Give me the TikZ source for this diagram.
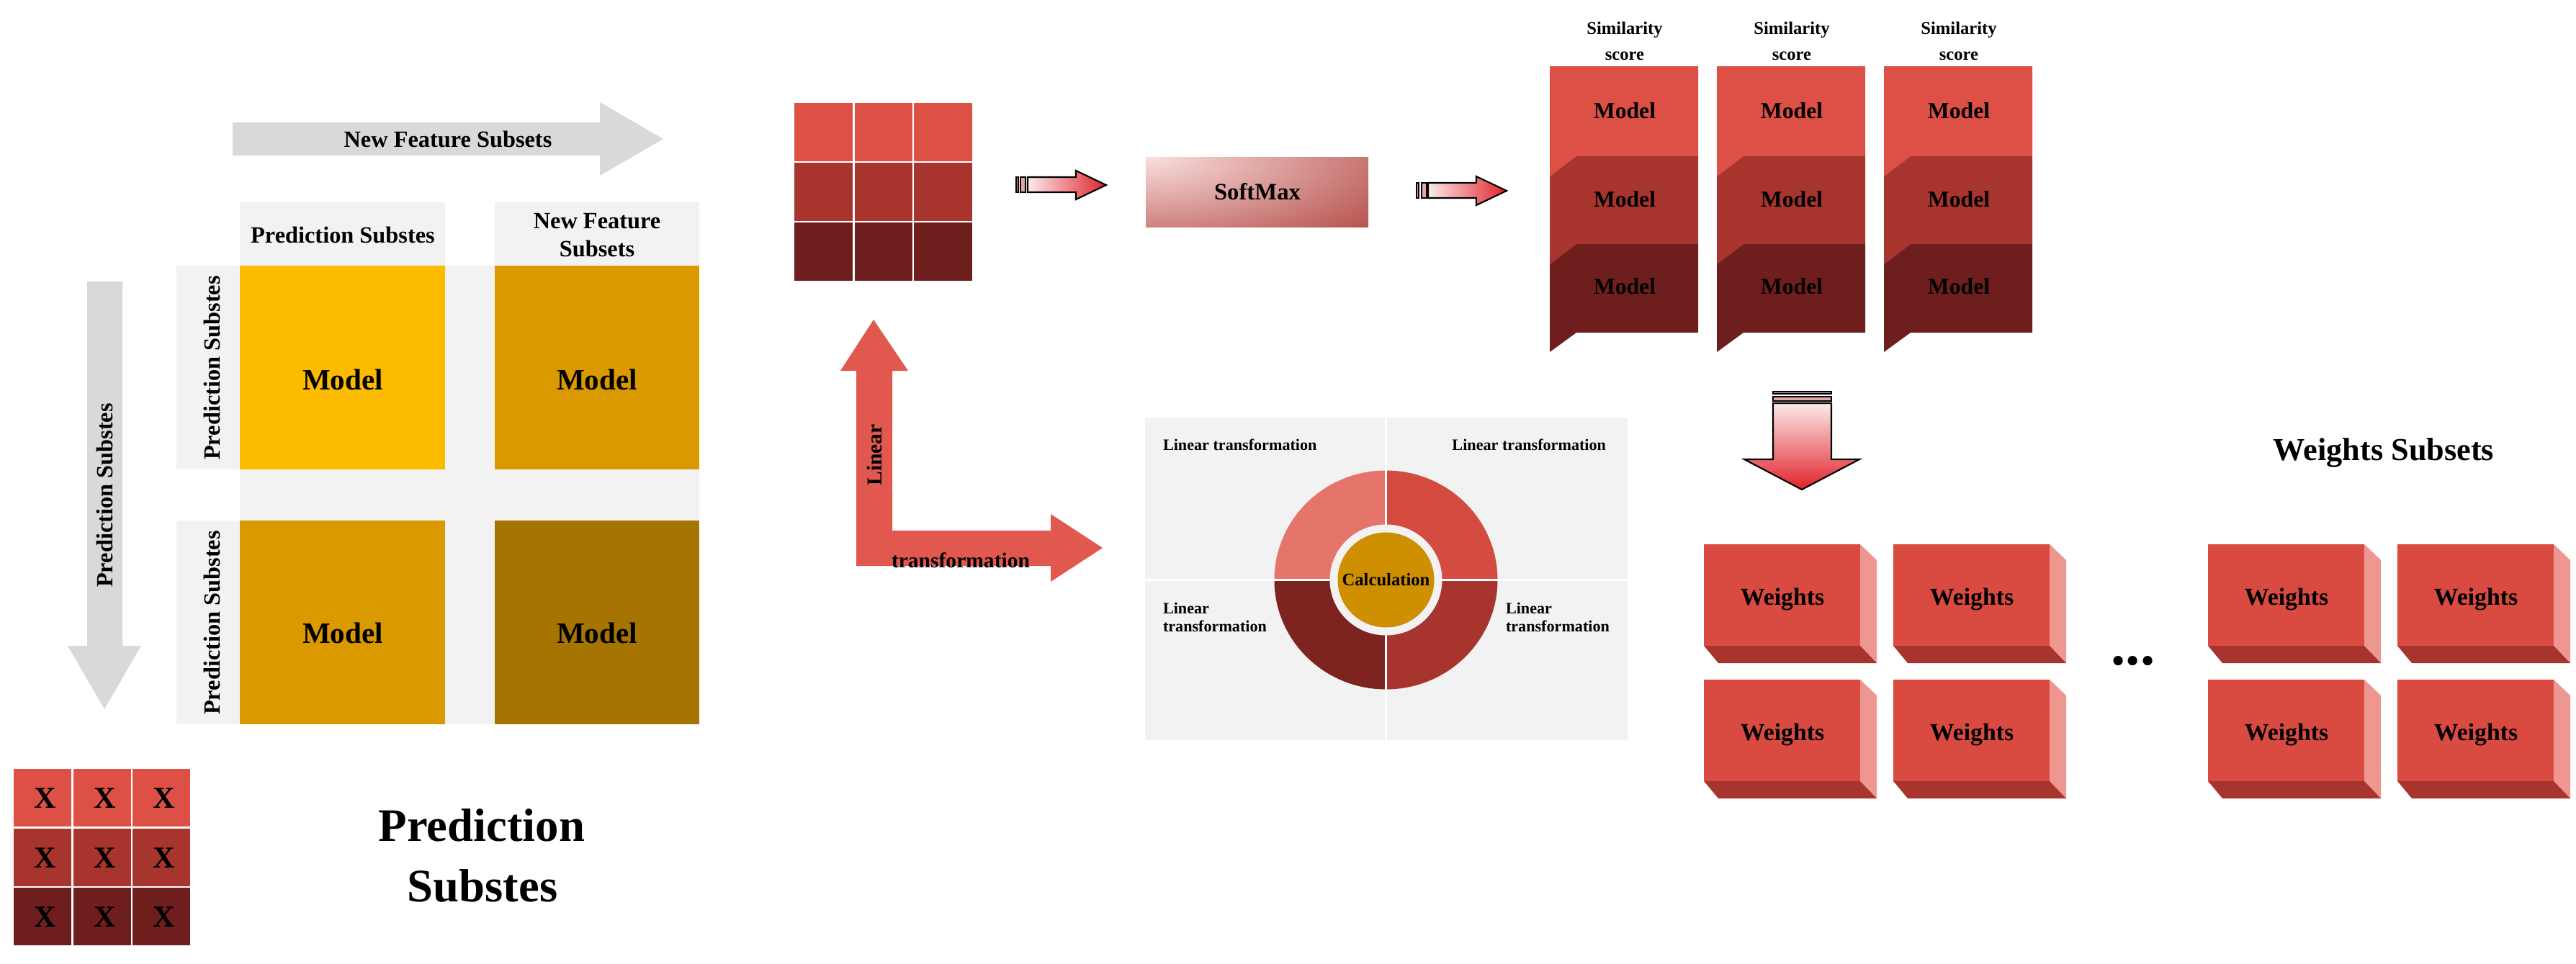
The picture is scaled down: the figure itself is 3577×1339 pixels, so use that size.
\documentclass[tikz,border=0pt]{standalone}
\usepackage{fontspec}
\setmainfont{Liberation Serif}
\definecolor{gArrow}{HTML}{D9D9D9}
\definecolor{gBox}{HTML}{F2F2F2}
\definecolor{goldA}{HTML}{FDBB00}
\definecolor{goldB}{HTML}{DB9900}
\definecolor{goldC}{HTML}{A67400}
\definecolor{redA}{HTML}{DC5046}
\definecolor{redB}{HTML}{A8342E}
\definecolor{redC}{HTML}{6E1F1D}
\definecolor{ringA}{HTML}{E5746B}
\definecolor{ringB}{HTML}{D44B40}
\definecolor{ringC}{HTML}{A8342E}
\definecolor{ringD}{HTML}{7D2420}
\definecolor{calcGold}{HTML}{CE8F00}
\definecolor{lArrow}{HTML}{E0584E}
\definecolor{wFront}{HTML}{D94B41}
\definecolor{wSide}{HTML}{EE9690}
\definecolor{wBottom}{HTML}{A8342E}
\definecolor{smLight}{HTML}{FADFDF}
\definecolor{arrRed}{HTML}{E0232A}
\definecolor{arrLight}{HTML}{FBEAEA}
\definecolor{barPink}{HTML}{EBA4A4}
\newcommand{\FontHead}{\fontsize{9.2pt}{11pt}\selectfont\bfseries}
\newcommand{\FontModelBig}{\fontsize{11.7pt}{14pt}\selectfont\bfseries}
\newcommand{\FontX}{\fontsize{12pt}{14pt}\selectfont\bfseries}
\newcommand{\FontTitle}{\fontsize{18.4pt}{22pt}\selectfont\bfseries}
\newcommand{\FontSoft}{\fontsize{9.3pt}{11pt}\selectfont\bfseries}
\newcommand{\FontSim}{\fontsize{7pt}{8pt}\selectfont\bfseries}
\newcommand{\FontModelSm}{\fontsize{9pt}{11pt}\selectfont\bfseries}
\newcommand{\FontWeights}{\fontsize{9.6pt}{11pt}\selectfont\bfseries}
\newcommand{\FontWS}{\fontsize{12.6pt}{15pt}\selectfont\bfseries}
\newcommand{\FontLT}{\fontsize{6.3pt}{7.5pt}\selectfont\bfseries}
\newcommand{\FontCalc}{\fontsize{7pt}{8pt}\selectfont\bfseries}
\newcommand{\FontLArrow}{\fontsize{8.4pt}{10pt}\selectfont\bfseries}
\newcommand{\FontDots}{\fontsize{23pt}{26pt}\selectfont\bfseries}
\begin{document}
\begin{tikzpicture}[x=0.01cm, y=-0.01cm,
  lbl/.style={inner sep=0pt, outer sep=0pt, font=#1},
  outl/.style={draw=black, line width=0.6pt, line join=miter}]
\useasboundingbox (0,0) rectangle (3577,1339);
\fill[white] (0,0) rectangle (3577,1339);

% ---------- left: gray arrows ----------
\fill[gArrow] (323,170) -- (833,170) -- (833,142) -- (921,193) -- (833,244) -- (833,216) -- (323,216) -- cycle;
\node[lbl=\FontHead, anchor=base] (nfsArrow) at (622,204) {New Feature Subsets};
\fill[gArrow] (121,391) -- (170,391) -- (170,897) -- (196,897) -- (145,985) -- (94,897) -- (121,897) -- cycle;
\node[lbl=\FontHead, rotate=90] (psArrow) at (145,688) {Prediction Substes};

% ---------- left: matrix ----------
\fill[gBox] (333,369) rectangle (971,1006);
\fill[gBox] (333,281) rectangle (618,369);
\fill[gBox] (687,281) rectangle (971,369);
\fill[gBox] (245,369) rectangle (333,652);
\fill[gBox] (245,723) rectangle (333,1006);
\node[lbl=\FontHead, anchor=base] (hdrPS) at (476,337) {Prediction Substes};
\node[lbl=\FontHead, anchor=base] (hdrNF1) at (829,317) {New Feature};
\node[lbl=\FontHead, anchor=base] (hdrNF2) at (829,356) {Subsets};
\node[lbl=\FontHead, rotate=90] (rowPS1) at (294,511) {Prediction Substes};
\node[lbl=\FontHead, rotate=90] (rowPS2) at (294,865) {Prediction Substes};
\fill[goldA] (333,369) rectangle (618,652);
\fill[goldB] (687,369) rectangle (971,652);
\fill[goldB] (333,723) rectangle (618,1006);
\fill[goldC] (687,723) rectangle (971,1006);
\node[lbl=\FontModelBig, anchor=base] (mTL) at (476,541) {Model};
\node[lbl=\FontModelBig, anchor=base] (mTR) at (829,541) {Model};
\node[lbl=\FontModelBig, anchor=base] (mBL) at (476,893) {Model};
\node[lbl=\FontModelBig, anchor=base] (mBR) at (829,893) {Model};

% ---------- X grid ----------
\foreach \yo/\col [count=\r] in {1068/redA,1151/redB,1233/redC} {
  \foreach \xo [count=\c] in {19,102,184} {
    \fill[\col] (\xo,\yo) rectangle (\xo+80,\yo+80);
    \node[lbl=\FontX, anchor=base] (x-\r-\c) at (\xo+44,\yo+54) {X};
  }
}
\node[lbl=\FontTitle, anchor=base] (ttl1) at (669,1168) {Prediction};
\node[lbl=\FontTitle, anchor=base] (ttl2) at (670,1252) {Substes};

% ---------- middle grid ----------
\foreach \yo/\col in {143/redA,226/redB,309/redC} {
  \foreach \xo/\w in {1103/81,1187/80,1269/81} {
    \fill[\col] (\xo,\yo) rectangle (\xo+\w,\yo+81);
  }
}

% ---------- small arrow 1 ----------
\fill[barPink, outl] (1411,246) rectangle (1414,267);
\fill[barPink, outl] (1417,246) rectangle (1424,267);
\shadedraw[left color=arrLight, right color=arrRed, outl] (1427,246) -- (1494,246) -- (1494,237) -- (1536,257) -- (1494,277) -- (1494,267) -- (1427,267) -- cycle;

% ---------- SoftMax ----------
\begin{scope}
  \clip (1591,218) rectangle (1900,315);
  \shade[inner color=smLight, outer color=redB] (1591,218) ellipse [x radius=500, y radius=180];
\end{scope}
\node[lbl=\FontSoft, anchor=base] (softmax) at (1746,277) {SoftMax};

% ---------- small arrow 2 ----------
\fill[barPink, outl] (1967,254) rectangle (1970,275);
\fill[barPink, outl] (1974,254) rectangle (1981,275);
\shadedraw[left color=arrLight, right color=arrRed, outl] (1983,254) -- (2050,254) -- (2050,245) -- (2092,265) -- (2050,285) -- (2050,275) -- (1983,275) -- cycle;

% ---------- similarity columns ----------
\foreach \xo [count=\i] in {2152,2384,2616} {
  \fill[redA] (\xo,92) -- (\xo+206,92) -- (\xo+206,217) -- (\xo+37,217) -- (\xo,245) -- cycle;
  \fill[redB] (\xo,245) -- (\xo+37,217) -- (\xo+206,217) -- (\xo+206,339) -- (\xo+37,339) -- (\xo,367) -- cycle;
  \fill[redC] (\xo,367) -- (\xo+37,339) -- (\xo+206,339) -- (\xo+206,462) -- (\xo+37,462) -- (\xo,489) -- cycle;
  \node[lbl=\FontSim, anchor=base] (sim-\i) at (\xo+104,47) {Similarity};
  \node[lbl=\FontSim, anchor=base] (score-\i) at (\xo+104,83) {score};
  \node[lbl=\FontModelSm, anchor=base] (sm-\i-1) at (\xo+104,164) {Model};
  \node[lbl=\FontModelSm, anchor=base] (sm-\i-2) at (\xo+104,287) {Model};
  \node[lbl=\FontModelSm, anchor=base] (sm-\i-3) at (\xo+104,408) {Model};
}

% ---------- big down arrow ----------
\fill[barPink, outl] (2462,544) rectangle (2543,547);
\fill[barPink, outl] (2462,551) rectangle (2543,557);
\shadedraw[top color=arrLight, bottom color=arrRed, outl] (2462,560) -- (2543,560) -- (2543,638) -- (2582,638) -- (2502,680) -- (2422,638) -- (2462,638) -- cycle;

% ---------- weights boxes ----------
\foreach \xo [count=\c] in {2366,2629,3066,3329} {
  \foreach \yo [count=\r] in {756,944} {
    \fill[wFront] (\xo,\yo) rectangle (\xo+217,\yo+141);
    \fill[wSide] (\xo+217,\yo) -- (\xo+240,\yo+22) -- (\xo+240,\yo+165) -- (\xo+217,\yo+141) -- cycle;
    \fill[wBottom] (\xo,\yo+141) -- (\xo+217,\yo+141) -- (\xo+240,\yo+165) -- (\xo+20,\yo+165) -- cycle;
    \node[lbl=\FontWeights, anchor=base] (w-\r-\c) at (\xo+109,\yo+84) {Weights};
  }
}
\node[lbl=\FontDots] (dots) at (2962,918) {...};
\node[lbl=\FontWS, anchor=base] (wsub) at (3310,639) {Weights Subsets};

% ---------- L arrow ----------
\fill[lArrow] (1189,786) -- (1189,515) -- (1167,515) -- (1213,444) -- (1261,515) -- (1239,515) -- (1239,737) -- (1459,737) -- (1459,714) -- (1531,761) -- (1459,808) -- (1459,786) -- cycle;
\node[lbl=\FontLArrow, rotate=90] (linTxt) at (1214,632) {Linear};
\node[lbl=\FontLArrow, anchor=base] (trTxt) at (1334,788) {transformation};

% ---------- calculation panel ----------
\fill[gBox] (1590,580) rectangle (1923,804);
\fill[gBox] (1926,580) rectangle (2260,804);
\fill[gBox] (1590,807) rectangle (1923,1028);
\fill[gBox] (1926,807) rectangle (2260,1028);
\coordinate (cc) at (1924.5,805.5);
\begin{scope}
  \clip (1700,600) rectangle (cc);
  \fill[ringA] (cc) ellipse [x radius=155, y radius=152];
\end{scope}
\begin{scope}
  \clip (2150,600) rectangle (cc);
  \fill[ringB] (cc) ellipse [x radius=155, y radius=152];
\end{scope}
\begin{scope}
  \clip (2150,1010) rectangle (cc);
  \fill[ringC] (cc) ellipse [x radius=155, y radius=152];
\end{scope}
\begin{scope}
  \clip (1700,1010) rectangle (cc);
  \fill[ringD] (cc) ellipse [x radius=155, y radius=152];
\end{scope}
\draw[white, line width=0.85pt] (1924.5,640) -- (1924.5,971);
\draw[white, line width=0.85pt] (1760,805.5) -- (2089,805.5);
\fill[gBox] (cc) ellipse [x radius=78, y radius=77];
\fill[calcGold] (cc) ellipse [x radius=67, y radius=66];
\node[lbl=\FontCalc, anchor=base] (calc) at (1924.5,813) {Calculation};
\node[lbl=\FontLT, anchor=base west] (ltTL) at (1615,625) {Linear transformation};
\node[lbl=\FontLT, anchor=base east] (ltTR) at (2230,625) {Linear transformation};
\node[lbl=\FontLT, anchor=base west] (ltBL1) at (1615,852) {Linear};
\node[lbl=\FontLT, anchor=base west] (ltBL2) at (1615,877) {transformation};
\node[lbl=\FontLT, anchor=base west] (ltBR1) at (2091,852) {Linear};
\node[lbl=\FontLT, anchor=base west] (ltBR2) at (2091,877) {transformation};
\end{tikzpicture}
\end{document}
